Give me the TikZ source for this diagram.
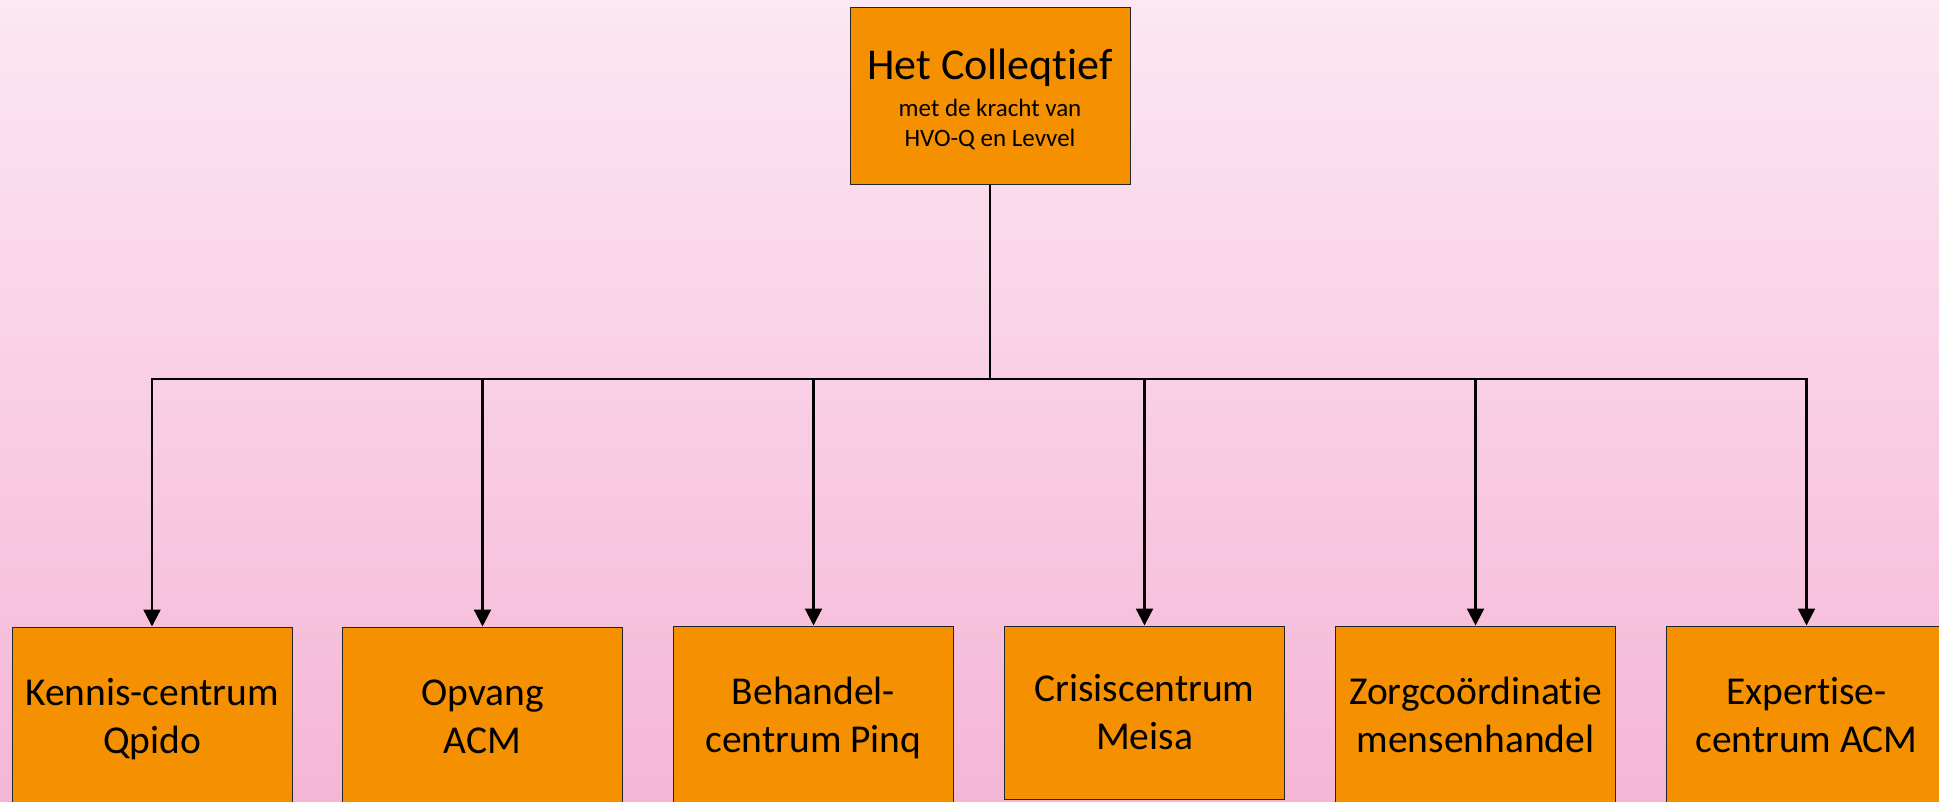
\documentclass[tikz,border=0pt]{standalone}
\usepackage{fontspec}
\setmainfont{Carlito}[RawFeature={-liga;-clig;-calt}]
\usetikzlibrary{arrows.meta,positioning}

\definecolor{orgorange}{RGB}{245,145,0}
\definecolor{bgtop}{RGB}{252,231,243}
\definecolor{bgbottom}{RGB}{245,182,214}
\newcommand{\up}[1]{\rule{0pt}{#1}}

\begin{document}
\begin{tikzpicture}[x=1pt,y=-1pt,line join=miter,
  unit/.style={draw=black!85,line width=1pt,fill=orgorange,minimum width=280pt,minimum height=182pt,
    anchor=north,inner sep=0pt,align=center,font=\fontsize{39.5}{48}\selectfont,
    execute at end node={\rule[-10pt]{0pt}{10pt}}},
  link/.style={line width=2.3pt,-{Triangle[width=17pt,length=17pt]}}]

\useasboundingbox (0,0) rectangle (1939,801);
\shade[top color=bgtop,bottom color=bgbottom] (0,0) rectangle (1939,801);
\clip (0,0) rectangle (1939,801);

% top of the tree
\node[unit,anchor=center,minimum height=177pt,font=\fontsize{25}{30}\selectfont,
  execute at end node={\rule[-8pt]{0pt}{8pt}}] (colleqtief) at (990,95.5)
  {{\fontsize{44}{30}\selectfont\up{44pt}Het Colleqtief}\\[7pt]met de kracht van\\HVO-Q en Levvel};

\coordinate (bus) at (990,379);

% the six units
\node[unit] (kennis) at (152,626.5) {\up{33pt}Kennis-centrum\\Qpido};
\node[unit] (opvang) at (482.5,626.5) {\up{33pt}Opvang\\ACM};
\node[unit] (behandel) at (813.5,625.5) {\up{33pt}Behandel-\\centrum Pinq};
\node[unit,minimum height=173pt] (crisis) at (1144.5,625.5) {\up{35pt}Crisiscentrum\\Meisa};
\node[unit] (zorg) at (1475.5,625.5) {\up{33pt}Zorgcoördinatie\\mensenhandel};
\node[unit] (expertise) at (1806.5,625.5) {\up{33pt}Expertise-\\centrum ACM};

\draw[line width=2.3pt] (colleqtief.south) -- (bus);
\draw[link] (bus) -| (kennis.north);
\draw[link] (bus) -| (opvang.north);
\draw[link] (bus) -| (behandel.north);
\draw[link] (bus) -| (crisis.north);
\draw[link] (bus) -| (zorg.north);
\draw[link] (bus) -| (expertise.north);

\end{tikzpicture}
\end{document}
